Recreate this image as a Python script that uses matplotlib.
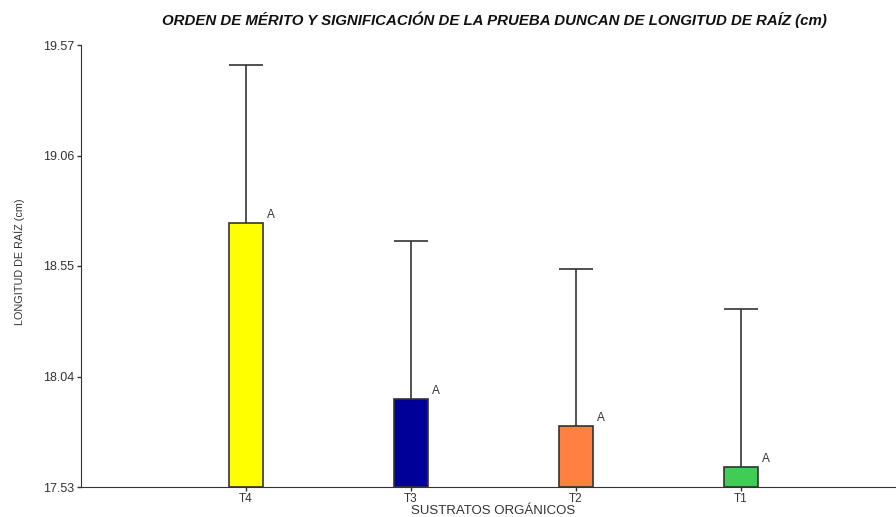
import matplotlib
matplotlib.use("Agg")
import matplotlib.pyplot as plt
import numpy as np

# Data
tratamientos = ['T4', 'T3', 'T2', 'T1']
medias = [18.748, 17.936, 17.813, 17.622]
err_sup = [19.478, 18.665, 18.537, 18.353]  # top of the error bar
letras = ['A', 'A', 'A', 'A']
colores = ['#ffff00', '#000099', '#ff8040', '#40cc55']
yticks = [17.53, 18.04, 18.55, 19.06, 19.57]

plt.rcParams['font.family'] = ['Liberation Sans', 'DejaVu Sans']

fig = plt.figure(figsize=(8.96, 5.17), dpi=100)
ax = fig.add_axes([81/896, 1 - 487/517, 1 - 81/896, (487 - 45)/517])

x = np.arange(1, len(tratamientos) + 1)
ancho = 0.21
base = yticks[0]
alturas = np.array(medias) - base
ax.bar(x, alturas, bottom=base, width=ancho, color=colores,
       edgecolor='#333333', linewidth=1.2, zorder=2)

# upper error bars only (stem + cap)
ax.vlines(x, medias, err_sup, color='#333333', linewidth=1.2, zorder=1)
ax.hlines(err_sup, x - ancho / 2, x + ancho / 2, color='#333333', linewidth=1.2, zorder=1)

for xi, m, l in zip(x, medias, letras):
    ax.text(xi + 0.125, m + 0.01, l, fontsize=8.5, color='#333333',
            ha='left', va='bottom')

ax.set_xlim(0, 4.94)
ax.set_ylim(yticks[0], yticks[-1])
ax.set_xticks(x)
ax.set_xticklabels(tratamientos)
ax.set_yticks(yticks)
ax.set_yticklabels([f'{v:.2f}' for v in yticks])
ax.tick_params(axis='y', colors='#333333', labelsize=9, length=3, width=1, pad=2)
ax.tick_params(axis='x', colors='#333333', labelsize=8.5, length=3, width=1, pad=1)

ax.spines['top'].set_visible(False)
ax.spines['right'].set_visible(False)
ax.spines['left'].set_color('#333333')
ax.spines['bottom'].set_color('#333333')

fig.text(493/896, 0, 'SUSTRATOS ORGÁNICOS', ha='center', va='bottom',
         fontsize=9.5, color='#333333')
fig.text(19/896, 1 - 262/517, 'LONGITUD DE RAÍZ (cm)', ha='center', va='center',
         rotation=90, fontsize=7.8, color='#333333')

fig.text(494/896, 1 - 20/517, 'ORDEN DE MÉRITO Y SIGNIFICACIÓN DE LA PRUEBA DUNCAN DE LONGITUD DE RAÍZ (cm)',
         ha='center', va='center', fontsize=10.8, fontweight='bold', fontstyle='italic',
         color='#111111')

fig.savefig('out.png', dpi=100)
